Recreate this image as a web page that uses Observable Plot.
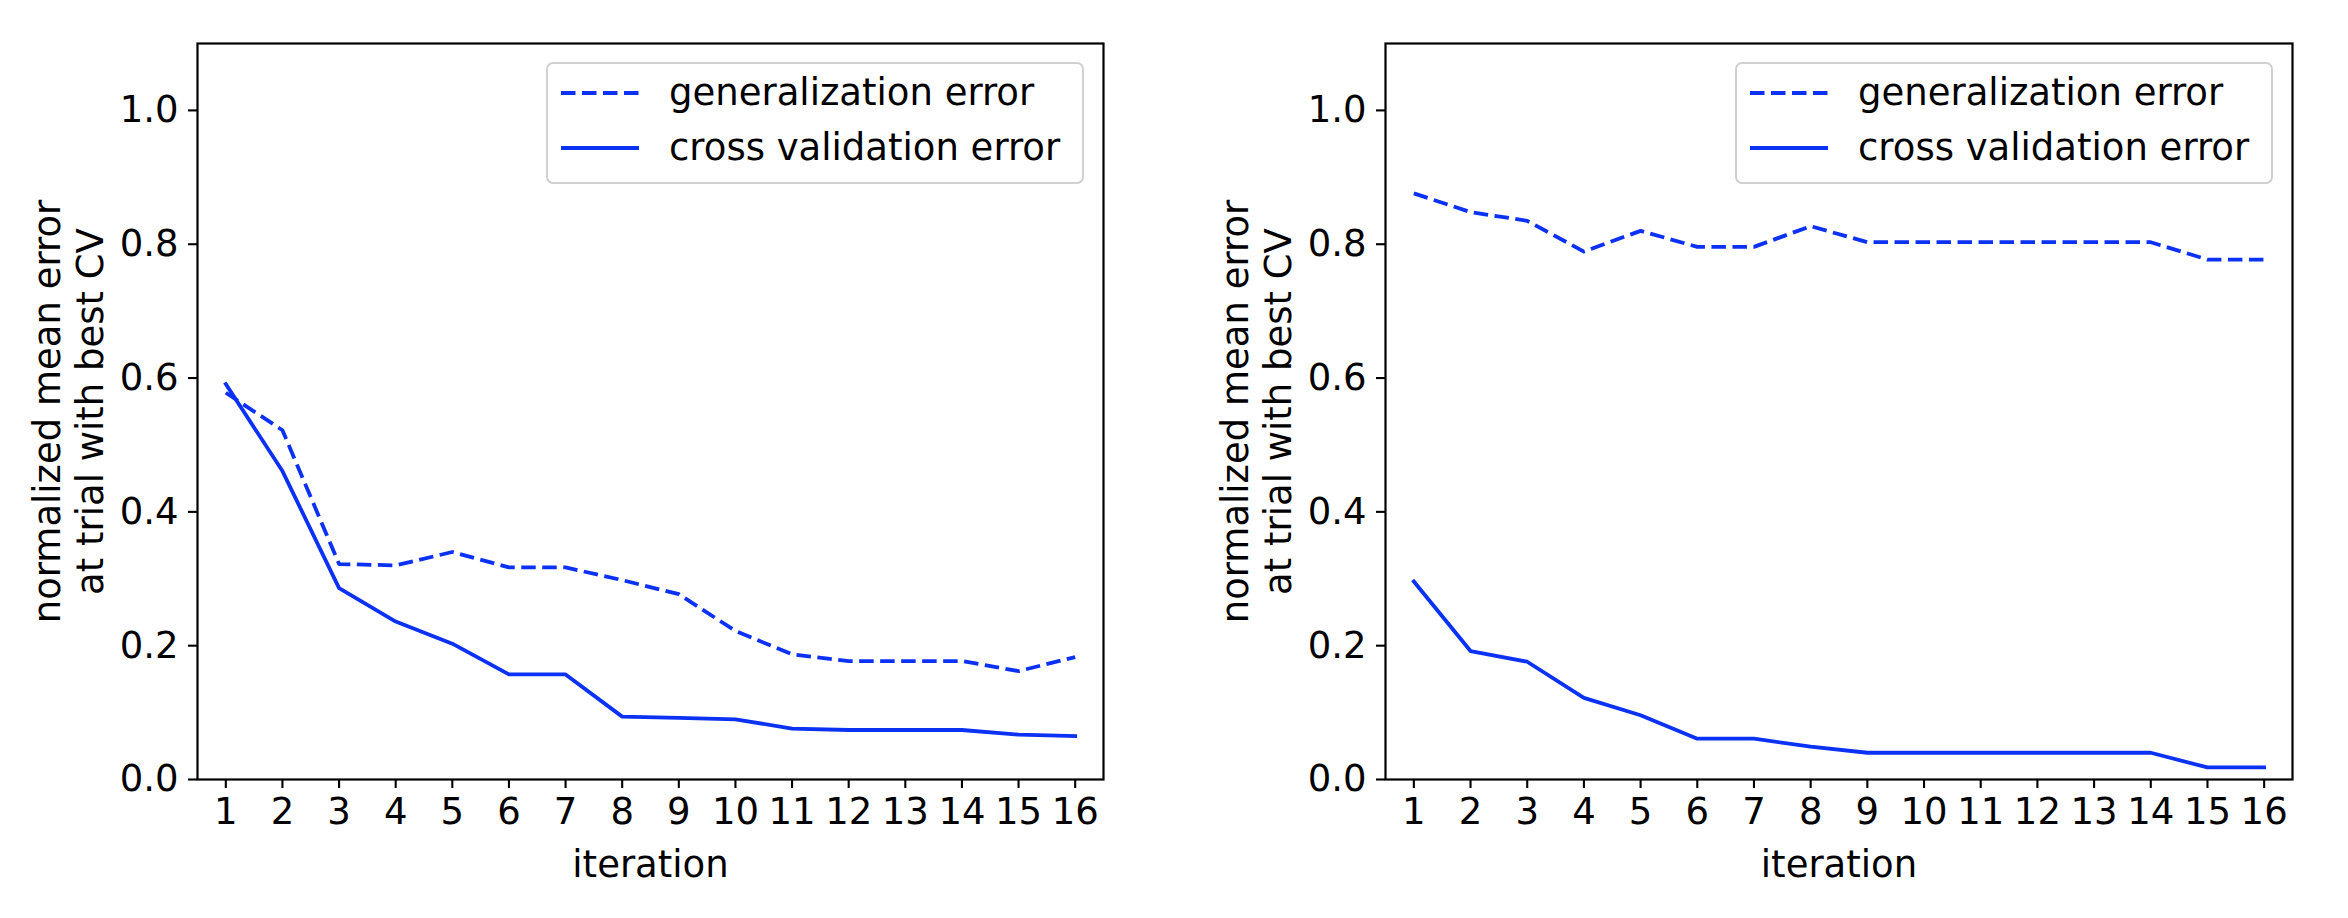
<!DOCTYPE html>
<html>
<head>
<meta charset="utf-8">
<script src="https://cdn.jsdelivr.net/npm/d3@7"></script>
<script src="https://cdn.jsdelivr.net/npm/@observablehq/plot@0.6"></script>
<style>
  html, body { margin: 0; padding: 0; background: #fff; }
  #wrap { position: relative; width: 2348px; height: 918px; overflow: hidden; font-family: "DejaVu Sans", sans-serif; }
  .panel { position: absolute; top: 0; width: 1174px; height: 918px; }
  .legend { position: absolute; box-sizing: border-box; width: 538px; height: 122px;
            border: 2px solid #d0d0d0; border-radius: 7px; background: rgba(255,255,255,0.8); }
  .legend svg { position: absolute; left: 0; top: 0; overflow: visible; }
</style>
</head>
<body>
<div id="wrap"></div>
<script>
// ---- data ----
const iterations = [1, 2, 3, 4, 5, 6, 7, 8, 9, 10, 11, 12, 13, 14, 15, 16];
const leftGen  = [0.578, 0.522, 0.322, 0.320, 0.340, 0.317, 0.317, 0.298, 0.277, 0.222, 0.187, 0.177, 0.177, 0.177, 0.162, 0.183];
const leftCV   = [0.591, 0.461, 0.286, 0.236, 0.203, 0.157, 0.157, 0.094, 0.092, 0.090, 0.076, 0.074, 0.074, 0.074, 0.067, 0.065];
const rightGen = [0.876, 0.848, 0.835, 0.789, 0.820, 0.796, 0.796, 0.827, 0.803, 0.803, 0.803, 0.803, 0.803, 0.803, 0.777, 0.777];
const rightCV  = [0.296, 0.192, 0.176, 0.122, 0.096, 0.061, 0.061, 0.049, 0.040, 0.040, 0.040, 0.040, 0.040, 0.040, 0.018, 0.018];
const yTicks = [0, 0.2, 0.4, 0.6, 0.8, 1.0];
const seriesLabels = ["generalization error", "cross validation error"];
const yLabel = "normalized mean error\nat trial with best CV";
const xLabel = "iteration";

const BLUE = "#0b31f5";
const LW = 3.8;
const DASH = "14.5,6.5";
const FONT = 37;

function makePanel(gen, cv, marginLeft, marginRight) {
  const rows = iterations.map((it, i) => ({iter: it, gen: gen[i], cv: cv[i]}));
  return Plot.plot({
    width: 1174,
    height: 918,
    marginLeft, marginRight,
    marginTop: 43,
    marginBottom: 139,
    style: {fontFamily: "DejaVu Sans", fontSize: FONT + "px", color: "black", background: "white", overflow: "visible"},
    x: {domain: [0.5, 16.5]},
    y: {domain: [0, 1.1]},
    marks: [
      Plot.axisX({ticks: iterations, tickFormat: d => String(d), tickSize: 9, tickPadding: 9, strokeWidth: 2.1, label: null}),
      Plot.axisY({ticks: yTicks, tickFormat: d3.format(".1f"), tickSize: 9, tickPadding: 10, strokeWidth: 2.1, label: null}),
      Plot.line(rows, {x: "iter", y: "gen", stroke: BLUE, strokeWidth: LW, strokeDasharray: DASH, strokeLinecap: "butt", strokeLinejoin: "round"}),
      Plot.line(rows, {x: "iter", y: "cv", stroke: BLUE, strokeWidth: LW, strokeLinecap: "square", strokeLinejoin: "round"}),
      Plot.frame({stroke: "black", strokeWidth: 2.2}),
      Plot.text([yLabel], {frameAnchor: "left", rotate: -90, dx: -130, lineHeight: 1.16, textAnchor: "middle", lineAnchor: "middle", fontSize: FONT, fill: "black"}),
      Plot.text([xLabel], {frameAnchor: "bottom", dy: 86, lineAnchor: "middle", textAnchor: "middle", fontSize: FONT, fill: "black"})
    ]
  });
}

function makeLegend(frameRight) {
  const box = document.createElement("div");
  box.className = "legend";
  box.style.left = (frameRight - 19 - 538) + "px";
  box.style.top = (43 + 19) + "px";
  const ns = "http://www.w3.org/2000/svg";
  const svg = document.createElementNS(ns, "svg");
  svg.setAttribute("width", 534);
  svg.setAttribute("height", 118);
  const rowsY = [29, 84];
  seriesLabels.forEach((lab, i) => {
    const ln = document.createElementNS(ns, "line");
    ln.setAttribute("x1", 13); ln.setAttribute("x2", 91);
    ln.setAttribute("y1", rowsY[i]); ln.setAttribute("y2", rowsY[i]);
    ln.setAttribute("stroke", BLUE);
    ln.setAttribute("stroke-width", LW);
    if (i === 0) ln.setAttribute("stroke-dasharray", DASH);
    svg.appendChild(ln);
    const t = document.createElementNS(ns, "text");
    t.setAttribute("x", 121);
    t.setAttribute("y", rowsY[i]);
    t.setAttribute("dy", "0.33em");
    t.setAttribute("font-family", "DejaVu Sans");
    t.setAttribute("font-size", FONT);
    t.setAttribute("fill", "black");
    t.textContent = lab;
    svg.appendChild(t);
  });
  box.appendChild(svg);
  return box;
}

const wrap = document.getElementById("wrap");
[[leftGen, leftCV, 197, 71, 0], [rightGen, rightCV, 211, 56, 1174]].forEach(([g, c, ml, mr, off]) => {
  const panel = document.createElement("div");
  panel.className = "panel";
  panel.style.left = off + "px";
  panel.appendChild(makePanel(g, c, ml, mr));
  panel.appendChild(makeLegend(1174 - mr));
  wrap.appendChild(panel);
});
</script>
</body>
</html>
